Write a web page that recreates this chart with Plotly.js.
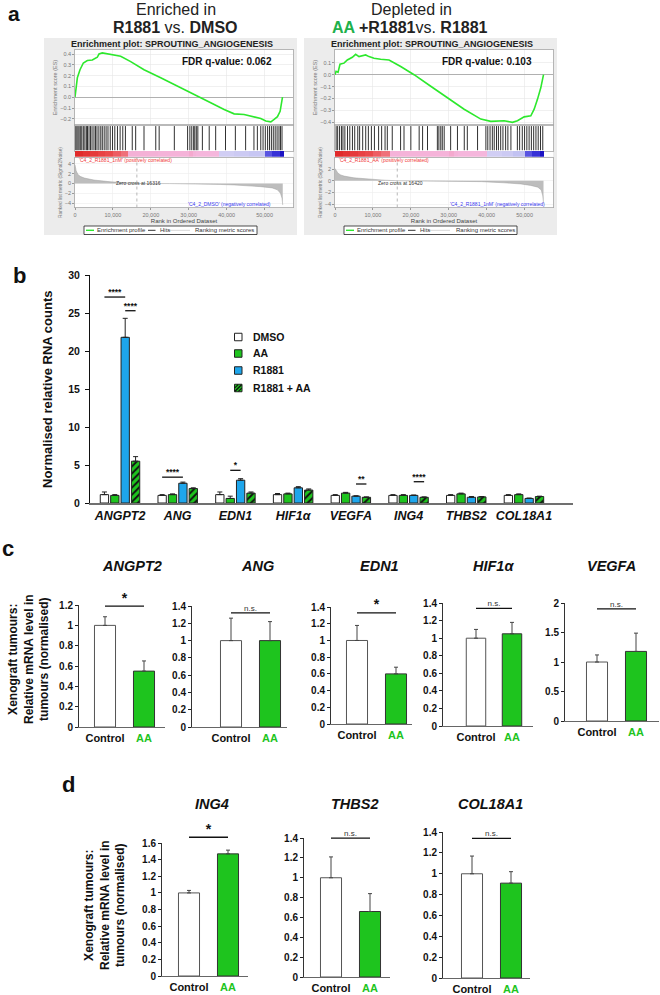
<!DOCTYPE html>
<html><head><meta charset="utf-8">
<script src="https://cdn.plot.ly/plotly-3.0.1.min.js"></script>
<style>html,body{margin:0;padding:0;background:#fff}#chart{width:660px;height:995px}</style>
</head><body><div id="chart"></div>
<script>
// ================= DATA =================
// Panel a : GSEA (SPROUTING_ANGIOGENESIS)
const rankTicks = [0, 10000, 20000, 30000, 40000, 50000];

const esLeftTicks = [-0.2, -0.1, 0, 0.1, 0.2, 0.3, 0.4];
const esLeftRank = [0,180,620,1320,2200,3250,4570,5880,6330,7200,8970,10290,12050,14690,18210,22600,27010,31400,35800,39330,41970,44600,46400,49000,50330,51650,52530,53400,54100,54460,54730];
const esLeftValue = [0,0.055,0.18,0.255,0.317,0.34,0.345,0.37,0.40,0.41,0.40,0.39,0.38,0.33,0.255,0.18,0.10,0.025,-0.052,-0.114,-0.154,-0.16,-0.175,-0.197,-0.22,-0.228,-0.206,-0.18,-0.13,-0.068,0.0];
const hitsLeft = [200,500,800,1100,1500,1800,2200,2600,3000,3300,3700,4100,4500,5000,5400,5800,6300,6800,7200,7700,8200,8700,9300,9900,10500,11200,11900,12600,13300,15100,16000,18200,21300,22200,26200,29700,30300,30800,31300,31600,32000,32400,33600,35400,37100,39700,42300,45000,47200,48100,49000,49600,50200,50800,51300,51800,52300,52800,53300,53800,54200,54600];
const stripLeftEdges = [0,2000,4000,6000,8000,10000,12000,14000,22000,30000,31000,32000,38000,42000,46000,50000,52000,54000,55200];
const stripLeftLevels = [1.0,0.95,0.9,0.85,0.8,0.7,0.6,0.24,0.22,0.3,0.22,0.2,-0.25,-0.3,-0.35,-0.75,-0.85,-1.0];
const metricLeftTicks = [-4, -2, 0, 2, 4];
const metricLeftRank = [0,300,800,1500,2500,5000,9500,13000,16316,25000,38000,38300,42000,46000,49000,52000,53400,54200,54600,54800];
const metricLeftValue = [3.8,2.6,1.8,1.4,1.1,0.7,0.33,0.15,0,-0.02,-0.05,-0.2,-0.3,-0.45,-0.65,-0.9,-1.3,-2.0,-3.0,-4.4];
const zeroCrossLeft = 16316;

const esRightTicks = [-0.4, -0.3, -0.2, -0.1, 0, 0.1];
const esRightRank = [0,280,800,1320,2380,3250,4570,5450,6330,7200,8090,8970,10290,12050,14250,17330,20850,25250,29650,34060,38460,41100,44600,46800,48130,49890,51650,52530,53400,54280,55000];
const esRightValue = [0,0.028,0.02,0.088,0.097,0.124,0.146,0.171,0.152,0.16,0.166,0.152,0.138,0.13,0.124,0.069,0.0,-0.097,-0.193,-0.29,-0.373,-0.392,-0.387,-0.40,-0.387,-0.354,-0.345,-0.29,-0.207,-0.11,0.0];
const hitsRight = [300,700,1200,1700,2100,2600,3300,3900,4600,5200,6000,6500,7300,8100,8800,9600,10400,11500,12300,13200,13800,15100,17300,18200,20000,22200,23100,24400,27000,27400,27900,28300,28800,30500,32300,34100,34900,37600,39800,40300,40900,41500,42000,42600,43100,43700,44300,45000,45600,46400,48100,48700,49400,50000,50600,51200,51800,52400,53000,53600,54200,54800];
const stripRightEdges = [0,2000,4000,6000,8000,10000,12000,14500,30000,31500,32500,40000,44000,47000,50000,52000,54000,55200];
const stripRightLevels = [1.0,0.95,0.9,0.85,0.8,0.7,0.6,0.22,0.3,0.22,0.2,-0.25,-0.3,-0.4,-0.75,-0.85,-1.0];
const metricRightTicks = [-4, -2, 0, 2];
const metricRightRank = [0,300,800,1500,2400,5000,9500,13000,16420,25000,38400,38600,44600,49000,51600,53500,54400,54800,55000];
const metricRightValue = [2.1,1.7,1.3,1.0,0.8,0.5,0.24,0.1,0,-0.02,-0.05,-0.15,-0.35,-0.55,-0.8,-1.1,-1.6,-2.6,-3.9];
const zeroCrossRight = 16420;

// Panel b : normalised relative RNA counts
const genesB = ['ANGPT2','ANG','EDN1','HIF1α','VEGFA','ING4','THBS2','COL18A1'];
const seriesNames = ['DMSO','AA','R1881','R1881 + AA'];
const dmso     = [1.1, 1.0, 1.1, 1.1, 1.0, 1.0, 1.0, 1.0];
const aa       = [1.0, 1.1, 0.6, 1.2, 1.3, 1.0, 1.2, 1.1];
const r1881    = [21.8, 2.6, 3.0, 2.0, 0.9, 1.0, 0.75, 0.6];
const r1881aa  = [5.5, 1.9, 1.3, 1.7, 0.75, 0.75, 0.8, 0.85];
const dmsoErr    = [0.35, 0.1, 0.35, 0.15, 0.1, 0.1, 0.1, 0.1];
const aaErr      = [0.1, 0.1, 0.3, 0.1, 0.1, 0.1, 0.1, 0.1];
const r1881Err   = [2.5, 0.15, 0.2, 0.15, 0.05, 0.05, 0.1, 0.05];
const r1881aaErr = [0.6, 0.1, 0.15, 0.15, 0.05, 0.05, 0.05, 0.05];
// significance: gene index, from series, to series, level, label
const sigGeneB  = [0, 0, 1, 2, 4, 5];
const sigFromB  = [0, 2, 0, 1, 2, 2];
const sigToB    = [2, 3, 2, 2, 3, 3];
const sigLevelB = [27.1, 25.3, 3.4, 4.3, 2.5, 2.8];
const sigTextB  = ['****','****','****','*','**','****'];

// Panel c : xenograft tumours
const genesC = ['ANGPT2','ANG','EDN1','HIF1α','VEGFA'];
const ctrlC    = [1.0, 1.0, 1.0, 1.0, 1.0];
const aaC      = [0.55, 1.0, 0.6, 1.05, 1.18];
const ctrlErrC = [0.085, 0.26, 0.18, 0.1, 0.12];
const aaErrC   = [0.10, 0.22, 0.08, 0.13, 0.31];
const sigC     = ['*','n.s.','*','n.s.','n.s.'];
const sigLevelC= [1.19, 1.32, 1.33, 1.34, 1.9];
const yMaxC    = [1.2, 1.4, 1.4, 1.4, 2];
const dtickC   = [0.2, 0.2, 0.2, 0.2, 0.5];

// Panel d
const genesD = ['ING4','THBS2','COL18A1'];
const ctrlD    = [1.0, 1.0, 1.0];
const aaD      = [1.47, 0.66, 0.91];
const ctrlErrD = [0.03, 0.21, 0.17];
const aaErrD   = [0.045, 0.18, 0.11];
const sigD     = ['*','n.s.','n.s.'];
const sigLevelD= [1.67, 1.4, 1.34];
const yMaxD    = [1.6, 1.4, 1.4];
const dtickD   = [0.2, 0.2, 0.2];

// ================= LAYOUT HELPERS =================
const W = 660, H = 995;
const FONT = 'Liberation Sans, Arial, Helvetica, sans-serif';
const X = p => p / W;
const Y = p => 1 - p / H;
const GREEN = '#1ec41e';
const BLUE = '#1ea6ec';
const layout = {
  width: W, height: H, margin: {l:0, r:0, t:0, b:0},
  paper_bgcolor: '#ffffff', plot_bgcolor: 'rgba(0,0,0,0)',
  font: {family: FONT, color: '#111'},
  shapes: [], annotations: [], showlegend: false,
  barmode: 'group', bargap: 0.28, bargroupgap: 0.2
};
const traces = [];
let nAx = 0;
function addAxes(xa, ya) {
  nAx++;
  const s = nAx === 1 ? '' : String(nAx);
  layout['xaxis' + s] = Object.assign({anchor: 'y' + s, fixedrange: true}, xa);
  layout['yaxis' + s] = Object.assign({anchor: 'x' + s, fixedrange: true}, ya);
  return {x: 'x' + s, y: 'y' + s};
}
function ann(text, x, y, font, extra) {
  layout.annotations.push(Object.assign({text: text, x: X(x), y: Y(y), xref: 'paper', yref: 'paper',
    showarrow: false, xanchor: 'center', yanchor: 'middle', font: Object.assign({family: FONT}, font)}, extra || {}));
}
function rect(x0, y0, x1, y1, fill, line, layer) {
  layout.shapes.push({type: 'rect', xref: 'paper', yref: 'paper', x0: X(x0), x1: X(x1), y0: Y(y1), y1: Y(y0),
    fillcolor: fill, line: line || {width: 0}, layer: layer || 'below'});
}
function seg(x0, y0, x1, y1, color, width) {
  layout.shapes.push({type: 'line', xref: 'paper', yref: 'paper', x0: X(x0), x1: X(x1), y0: Y(y0), y1: Y(y1),
    line: {color: color, width: width}});
}
const hidden = {showline: false, showticklabels: false, ticks: '', showgrid: false, zeroline: false};

// ================= PANEL A =================
const stripScale = [[0,'#1c14c4'],[0.08,'#3a34d8'],[0.15,'#6a66e6'],[0.3,'#c2c2f2'],[0.4,'#d6d2f4'],
  [0.5,'#eed0ea'],[0.6,'#f5b6dc'],[0.7,'#f29cc0'],[0.78,'#f07882'],[0.9,'#ea4a4c'],[1,'#e02a2a']];

function drawGsea(o, g) {
  const gx0 = 75 + o, gx1 = 293 + o, xr = [0, 57500];
  rect(44 + o, 38, 297 + o, 235, '#ececec');
  [[49.7,125.3],[125.3,156.8],[157.5,207.5],[226,234.5]].forEach(tb => rect(tb[0] === 226 ? 84 + o : gx0, tb[0], tb[0] === 226 ? 257 + o : gx1, tb[1], '#ffffff'));
  const frame = {showline: true, mirror: true, linecolor: '#a8a8a8', linewidth: 0.8, zeroline: false};
  const tf = {family: FONT, size: 5.5, color: '#777'};
  // ES
  const a1 = addAxes(
    Object.assign({domain: [X(gx0), X(gx1)], range: xr, tickvals: rankTicks, showticklabels: false, ticks: '',
      showgrid: true, gridcolor: '#e6e6e6', gridwidth: 0.6}, frame),
    Object.assign({domain: [Y(125.3), Y(49.7)], range: g.esRange, tickvals: g.esTicks, tickformat: '.1f',
      ticks: 'outside', ticklen: 2, tickcolor: '#999', tickfont: tf, showgrid: true, gridcolor: '#e6e6e6', gridwidth: 0.6,
      title: {text: 'Enrichment score (ES)', font: {family: FONT, size: 5.5, color: '#777'}, standoff: 2}},
      frame, {zeroline: true, zerolinecolor: '#b0b0b0', zerolinewidth: 1}));
  traces.push({type: 'scatter', mode: 'lines', x: g.esRank, y: g.esValue, xaxis: a1.x, yaxis: a1.y,
    line: {color: '#2de82d', width: 1.6}, hoverinfo: 'skip'});
  // hits
  const a2 = addAxes(
    Object.assign({domain: [X(gx0), X(gx1)], range: xr, showticklabels: false, ticks: '', showgrid: false}, frame),
    Object.assign({domain: [Y(151), Y(125.3)], range: [0, 1], showticklabels: false, ticks: '', showgrid: false}, frame));
  const hx = [], hy = [];
  g.hits.forEach(h => { hx.push(h, h, null); hy.push(0.03, 0.97, null); });
  traces.push({type: 'scatter', mode: 'lines', x: hx, y: hy, xaxis: a2.x, yaxis: a2.y,
    line: {color: '#1a1a1a', width: 0.9}, hoverinfo: 'skip'});
  // colour strip
  const a3 = addAxes(Object.assign({domain: [X(gx0), X(gx1)], range: xr}, hidden),
    Object.assign({domain: [Y(156.8), Y(151)], range: [0, 1]}, hidden));
  traces.push({type: 'heatmap', x: g.stripEdges, y: [0, 1], z: [g.stripLevels], zmin: -1, zmax: 1,
    colorscale: stripScale, showscale: false, xaxis: a3.x, yaxis: a3.y, hoverinfo: 'skip'});
  // ranked metric
  const a4 = addAxes(
    Object.assign({domain: [X(gx0), X(gx1)], range: xr, tickvals: rankTicks,
      ticktext: rankTicks.map(v => v.toLocaleString('en-US')), ticks: 'outside', ticklen: 2, tickcolor: '#999',
      tickfont: tf, showgrid: true, gridcolor: '#ededed', gridwidth: 0.6,
      title: {text: 'Rank in Ordered Dataset', font: {family: FONT, size: 6, color: '#444'}, standoff: 1}}, frame),
    Object.assign({domain: [Y(207.5), Y(157.5)], range: g.metricRange, tickvals: g.metricTicks, ticks: 'outside',
      ticklen: 2, tickcolor: '#999', tickfont: tf, showgrid: true, gridcolor: '#ededed', gridwidth: 0.6,
      title: {text: 'Ranked list metric (Signal2Noise)', font: {family: FONT, size: 4.8, color: '#777'}, standoff: 2}}, frame));
  traces.push({type: 'scatter', mode: 'lines', x: g.metricRank, y: g.metricValue, fill: 'tozeroy',
    fillcolor: '#bdbdbd', line: {color: '#a0a0a0', width: 0.5}, xaxis: a4.x, yaxis: a4.y, hoverinfo: 'skip'});
  traces.push({type: 'scatter', mode: 'lines', x: [g.zeroCross, g.zeroCross], y: g.metricRange,
    line: {color: '#9a9a9a', width: 0.7, dash: 'dot'}, xaxis: a4.x, yaxis: a4.y, hoverinfo: 'skip'});
  // texts
  ann('<b>Enrichment plot: SPROUTING_ANGIOGENESIS</b>', 171.5 + o, 43.5, {size: 9, color: '#222'});
  ann('<b>' + g.fdr + '</b>', 274 + o, 62, {size: 10, color: '#111'}, {xanchor: 'right'});
  ann(g.posLabel, gx0 + 2, 160.5, {size: 5, color: '#f03a3a'}, {xanchor: 'left'});
  ann('Zero cross at ' + g.zeroCross, g.zcX, 182.7, {size: 5, color: '#333'}, {xanchor: 'left'});
  ann(g.negLabel, g.negX, 203.8, {size: 5, color: '#3a3af0'}, {xanchor: 'right'});
  // legend box of the GSEA plot
  rect(84 + o, 226, 257 + o, 234.5, 'rgba(0,0,0,0)', {color: '#222', width: 0.8}, 'above');
  seg(86 + o, 230.3, 94 + o, 230.3, '#2de82d', 1.4);
  seg(148 + o, 230.3, 155.5 + o, 230.3, '#333', 1);
  seg(168 + o, 230.3, 190 + o, 230.3, '#d6d6d6', 1);
  ann('Enrichment profile', 95 + o, 230.3, {size: 6, color: '#333'}, {xanchor: 'left'});
  ann('Hits', 157.5 + o, 230.3, {size: 6, color: '#333'}, {xanchor: 'left'});
  ann('Ranking metric scores', 193.5 + o, 230.3, {size: 6, color: '#333'}, {xanchor: 'left'});
}

drawGsea(0, {esRange: [-0.26, 0.44], esTicks: esLeftTicks, esRank: esLeftRank, esValue: esLeftValue,
  hits: hitsLeft, stripEdges: stripLeftEdges, stripLevels: stripLeftLevels,
  metricRange: [-4.9, 5.3], metricTicks: metricLeftTicks, metricRank: metricLeftRank, metricValue: metricLeftValue,
  zeroCross: zeroCrossLeft, zcX: 114, negX: 273, fdr: 'FDR q-value: 0.062',
  posLabel: "'C4_2_R1881_1nM' (positively correlated)", negLabel: "'C4_2_DMSO' (negatively correlated)"});
drawGsea(260, {esRange: [-0.425, 0.21], esTicks: esRightTicks, esRank: esRightRank, esValue: esRightValue,
  hits: hitsRight, stripEdges: stripRightEdges, stripLevels: stripRightLevels,
  metricRange: [-4.6, 4.0], metricTicks: metricRightTicks, metricRank: metricRightRank, metricValue: metricRightValue,
  zeroCross: zeroCrossRight, zcX: 376, negX: 547, fdr: 'FDR q-value: 0.103',
  posLabel: "'C4_2_R1881_AA' (positively correlated)", negLabel: "'C4_2_R1881_1nM' (negatively correlated)"});

ann('Enriched in', 175.5, 9.5, {size: 16, color: '#222'});
ann('<b>R1881</b> vs. <b>DMSO</b>', 175.5, 27.5, {size: 16, color: '#222'});
ann('Depleted in', 411, 9.5, {size: 16, color: '#222'});
ann("<b><span style='color:#20b04b'>AA</span> +R1881</b>vs. <b>R1881</b>", 410, 27.5, {size: 16, color: '#222'});
ann('<b>a</b>', 14, 13, {size: 21, color: '#111'});

// ================= PANEL B =================
const bAx = addAxes(
  {domain: [X(90), X(573)], range: [-0.52, 7.85], tickvals: genesB.map((g, i) => i), ticktext: genesB,
   tickfont: {family: FONT, size: 12.5, weight: 'bold', style: 'italic', color: '#111'}, ticks: '',
   showline: true, linecolor: '#707070', linewidth: 1.5, showgrid: false, zeroline: false},
  {domain: [Y(503), Y(275)], range: [0, 30], dtick: 5, ticks: 'outside', ticklen: 4, tickcolor: '#111',
   showline: true, linecolor: '#111', linewidth: 1, showgrid: false, zeroline: false, ticklabelstandoff: 3,
   tickfont: {family: FONT, size: 10.5, weight: 'bold', color: '#111'}});
const bVals = [dmso, aa, r1881, r1881aa];
const bErrs = [dmsoErr, aaErr, r1881Err, r1881aaErr];
const bFill = ['#ffffff', GREEN, BLUE, GREEN];
bVals.forEach((vals, k) => {
  const t = {type: 'bar', name: seriesNames[k], x: genesB.map((g, i) => i), y: vals, xaxis: bAx.x, yaxis: bAx.y,
    marker: {color: bFill[k], line: {color: '#222', width: 1}},
    error_y: {type: 'data', symmetric: false, array: bErrs[k], arrayminus: bErrs[k].map(() => 0),
      color: '#222', thickness: 1, width: 2.5},
    hoverinfo: 'skip'};
  if (k === 3) t.marker.pattern = {shape: '/', fgcolor: '#111', bgcolor: GREEN, size: 5, solidity: 0.4, fillmode: 'replace'};
  traces.push(t);
});
const slot = (1 - layout.bargap) / 4;
const offs = [0, 1, 2, 3].map(k => -(1 - layout.bargap) / 2 + slot * (k + 0.5));
sigGeneB.forEach((g, i) => {
  const xa = g + offs[sigFromB[i]], xb = g + offs[sigToB[i]];
  traces.push({type: 'scatter', mode: 'lines', x: [xa, xb], y: [sigLevelB[i], sigLevelB[i]], xaxis: bAx.x, yaxis: bAx.y,
    line: {color: '#111', width: 1.3}, cliponaxis: false, hoverinfo: 'skip'});
  traces.push({type: 'scatter', mode: 'text', x: [(xa + xb) / 2], y: [sigLevelB[i]], text: [sigTextB[i]],
    textposition: 'top center', textfont: {family: FONT, size: 8.5, weight: 'bold', color: '#111'},
    xaxis: bAx.x, yaxis: bAx.y, cliponaxis: false, hoverinfo: 'skip'});
});
// legend of panel b (keys)
const legRows = [337, 353.5, 370.5, 388];
seriesNames.forEach((nm, k) => {
  const cy = legRows[k], x0 = 234.5, x1 = 242, y0 = cy - 3.75, y1 = cy + 3.75;
  rect(x0, y0, x1, y1, bFill[k], {color: '#222', width: 1}, 'above');
  if (k === 3) {
    seg(x0 + 0.5, y1 - 0.5, x1 - 0.5, y0 + 0.5, '#111', 1.2);
    seg(x0 + 0.3, y0 + 3.6, x0 + 3.6, y0 + 0.3, '#111', 1.1);
    seg(x0 + 3.9, y1 - 0.3, x1 - 0.3, y0 + 3.9, '#111', 1.1);
  }
  ann('<b>' + nm + '</b>', 250.5, cy, {size: 10.5, color: '#111'}, {xanchor: 'left'});
});
ann('<b>Normalised relative RNA counts</b>', 48, 390, {size: 13, color: '#111'}, {textangle: -90});
ann('<b>b</b>', 19, 275, {size: 22, color: '#111'});

// ================= PANELS C & D =================
const posC = [{l:79,r:165,c0:105,c1:144,top:605,bot:727,tx:132},{l:192,r:287,c0:231,c1:270,top:606,bot:727,tx:257},
  {l:331,r:412,c0:357,c1:396,top:607,bot:724,tx:379},{l:443,r:533,c0:476,c1:512,top:603,bot:726,tx:493},
  {l:565,r:659,c0:597,c1:636,top:603,bot:721,tx:611}];
const posD = [{l:162,r:248,c0:189,c1:228,top:843,bot:976,tx:212},{l:304,r:390,c0:331,c1:370,top:838,bot:977,tx:355},
  {l:443,r:530,c0:472,c1:511,top:832,bot:978,tx:490}];

function smallChart(p, gene, ctrl, aaV, ctrlErr, aaErrV, sig, sigLevel, ymax, dtick, titleY) {
  const u = p.c1 - p.c0;
  const r0 = -(p.c0 - p.l) / u, r1 = 1 + (p.r - p.c1) / u;
  const ax = addAxes(
    {domain: [X(p.l), X(p.r)], range: [r0, r1], tickvals: [0, 1],
     ticktext: ['Control', "<span style='color:" + GREEN + "'>AA</span>"],
     tickfont: {family: FONT, size: 11, weight: 'bold', color: '#111'}, ticks: '',
     showline: true, linecolor: '#666', linewidth: 1.3, showgrid: false, zeroline: false},
    {domain: [Y(p.bot), Y(p.top)], range: [0, ymax * 1.0005], dtick: dtick, tick0: 0, ticks: 'outside', ticklen: 3,
     tickcolor: '#222', showline: true, linecolor: '#333', linewidth: 1, showgrid: false, zeroline: false,
     tickfont: {family: FONT, size: 10, weight: 'bold', color: '#111'}});
  traces.push({type: 'bar', x: [0, 1], y: [ctrl, aaV], width: 0.54, xaxis: ax.x, yaxis: ax.y,
    marker: {color: ['#ffffff', GREEN], line: {color: ['#555', '#333'], width: 1}},
    error_y: {type: 'data', symmetric: false, array: [ctrlErr, aaErrV], arrayminus: [0, 0], color: '#444', thickness: 1, width: 2},
    hoverinfo: 'skip'});
  // overlay axes with the same scale but taller, for the significance bracket above the axis top
  const extra = 30, span = p.bot - p.top;
  const sx = addAxes(Object.assign({domain: [X(p.l), X(p.r)], range: [r0, r1]}, hidden),
    Object.assign({domain: [Y(p.bot), Y(p.top - extra)], range: [0, ymax * 1.0005 * (span + extra) / span]}, hidden));
  traces.push({type: 'scatter', mode: 'lines', x: [0, 1], y: [sigLevel, sigLevel], xaxis: sx.x, yaxis: sx.y,
    line: {color: '#111', width: 1.3}, cliponaxis: false, hoverinfo: 'skip'});
  const isStar = sig === '*';
  traces.push({type: 'scatter', mode: 'text', x: [0.5], y: [sigLevel], text: [sig], textposition: 'top center',
    textfont: isStar ? {family: FONT, size: 14, weight: 'bold', color: '#111'} : {family: FONT, size: 8, color: '#333'},
    xaxis: sx.x, yaxis: sx.y, cliponaxis: false, hoverinfo: 'skip'});
  ann('<b><i>' + gene + '</i></b>', p.tx, titleY, {size: 14.5, color: '#111'});
}
genesC.forEach((g, i) => smallChart(posC[i], g, ctrlC[i], aaC[i], ctrlErrC[i], aaErrC[i], sigC[i], sigLevelC[i], yMaxC[i], dtickC[i], 566));
genesD.forEach((g, i) => smallChart(posD[i], g, ctrlD[i], aaD[i], ctrlErrD[i], aaErrD[i], sigD[i], sigLevelD[i], yMaxD[i], dtickD[i], 804));

const yTitle = '<b>Xenograft tumours:<br>Relative mRNA level in<br>tumours (normalised)</b>';
ann(yTitle, 28, 659, {size: 12, color: '#111'}, {textangle: -90});
ann(yTitle, 104, 905, {size: 12, color: '#111'}, {textangle: -90});
ann('<b>c</b>', 8, 548, {size: 22, color: '#111'});
ann('<b>d</b>', 68, 784, {size: 22, color: '#111'});

traces.forEach(t => { t.showlegend = false; });
Plotly.newPlot('chart', traces, layout, {staticPlot: true, displayModeBar: false});
</script>
</body></html>
